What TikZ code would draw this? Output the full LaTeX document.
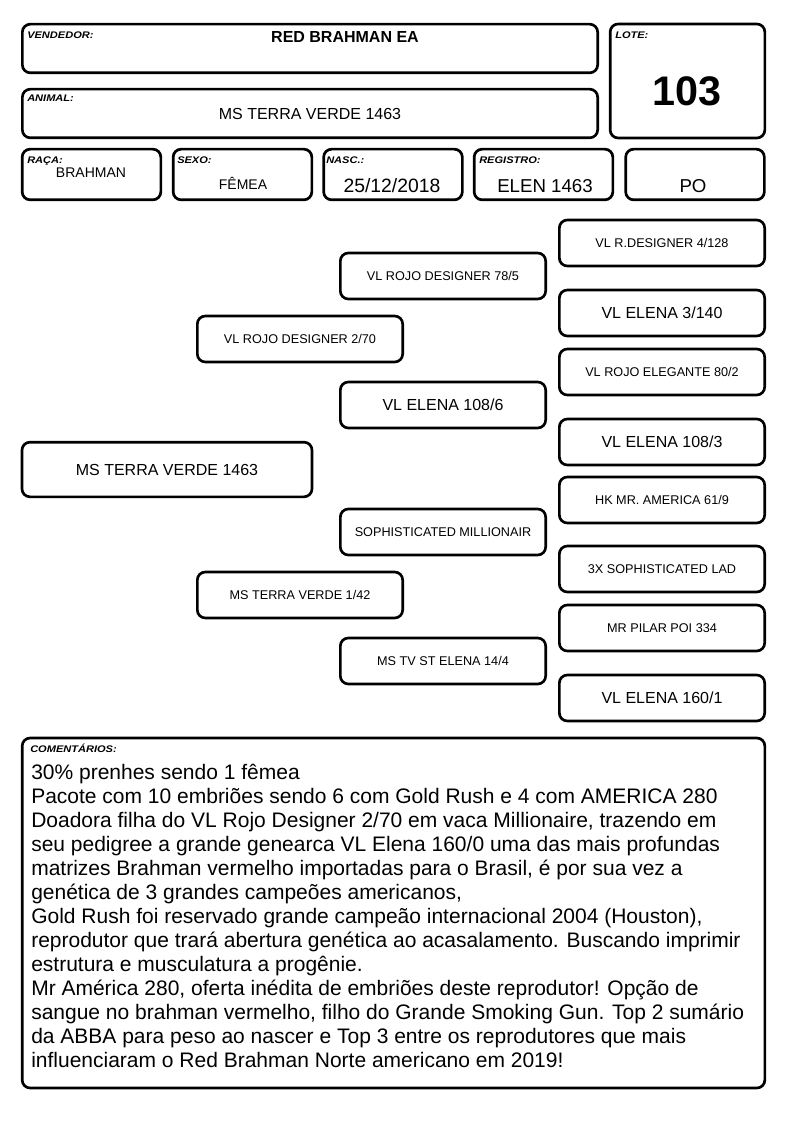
\documentclass[tikz,border=0pt]{standalone}
\usepackage{fontspec}
\setmainfont{Liberation Sans}
\newfontfamily\tagfont[FakeStretch=1.15]{Liberation Sans}
\usetikzlibrary{positioning}
\tikzset{
  card/.style ={draw=black, line width=2pt, rounded corners=6pt, fill=white, inner sep=0pt},
  head/.style ={card, minimum width=431.5pt, minimum height=36.5pt},
  cell/.style ={card, minimum width=104pt, minimum height=38pt},
  ped/.style  ={card, minimum width=154pt, minimum height=34.5pt, font=\fontsize{9.5}{11}\selectfont},
  pedl/.style ={ped, font=\fontsize{12}{14}\selectfont},
  tag/.style  ={anchor=base west, inner sep=0pt, font=\tagfont\fontsize{7.2}{8}\selectfont\bfseries\itshape},
  val/.style  ={anchor=base, inner sep=0pt}
}

\begin{document}
\begin{tikzpicture}[x=0.75pt, y=-0.75pt]
  \useasboundingbox (0,0) rectangle (794,1123);

  % cabecalho
  \node[head] (vend)   at (310,48.5)  {};
  \node[head] (animal) at (310,113.5) {};
  \node[card, minimum width=116pt, minimum height=85.5pt] (lote) at (687.5,81) {};
  \node[cell] (raca)  at (91.5,174.5) {};
  \node[cell] (sexo)  at (242.5,174.5) {};
  \node[cell] (nasc)  at (393,174.5) {};
  \node[cell] (reg)   at (543.5,174.5) {};
  \node[cell] (po)    at (695,174.5) {};

  \node[tag] (vendtag)   at (27,39)    {VENDEDOR:};
  \node[tag] (animaltag) at (27,102)   {ANIMAL:};
  \node[tag] (lotetag)   at (615,38.5) {LOTE:};
  \node[tag] (racatag)   at (27,163.5) {RAÇA:};
  \node[tag] (sexotag)   at (177,163.5) {SEXO:};
  \node[tag] (nasctag)   at (326,163.5) {NASC.:};
  \node[tag] (regtag)    at (479,163.5) {REGISTRO:};

  \node[val, font=\fontsize{12}{14}\selectfont\bfseries] (vendval) at (345,43) {RED BRAHMAN EA};
  \node[val, font=\fontsize{12}{14}\selectfont] (animalval) at (310,120) {MS TERRA VERDE 1463};
  \node[val, font=\fontsize{31}{34}\selectfont\bfseries] (loteval) at (687,106) {103};
  \node[val, font=\fontsize{10.5}{12}\selectfont] (racaval) at (91,178) {BRAHMAN};
  \node[val, font=\fontsize{10.5}{12}\selectfont] (sexoval) at (243,190) {FÊMEA};
  \node[val, font=\fontsize{14.5}{16}\selectfont] (nascval) at (392,193) {25/12/2018};
  \node[val, font=\fontsize{14}{16}\selectfont] (regval) at (545,193) {ELEN 1463};
  \node[val, font=\fontsize{14}{16}\selectfont] (poval) at (693,193) {PO};

  % pedigree
  \node[pedl, minimum width=217.5pt, minimum height=41pt] (animalped) at (167,469.5) {MS TERRA VERDE 1463};

  \node[ped] (pai) at (300,339) {VL ROJO DESIGNER 2/70};
  \node[ped] (mae) at (300,595) {MS TERRA VERDE 1/42};

  \node[ped]  (avopp) at (443,276) {VL ROJO DESIGNER 78/5};
  \node[pedl] (avopm) at (443,405) {VL ELENA 108/6};
  \node[ped]  (avomp) at (443,532) {SOPHISTICATED MILLIONAIR};
  \node[ped]  (avomm) at (443,661) {MS TV ST ELENA 14/4};

  \node[ped]  (bis1) at (662,243) {VL R.DESIGNER 4/128};
  \node[pedl] (bis2) at (662,313) {VL ELENA 3/140};
  \node[ped]  (bis3) at (662,372) {VL ROJO ELEGANTE 80/2};
  \node[pedl] (bis4) at (662,442) {VL ELENA 108/3};
  \node[ped]  (bis5) at (662,500) {HK MR. AMERICA 61/9};
  \node[ped]  (bis6) at (662,569) {3X SOPHISTICATED LAD};
  \node[ped]  (bis7) at (662,628) {MR PILAR POI 334};
  \node[pedl] (bis8) at (662,698) {VL ELENA 160/1};

  % comentarios
  \node[card, minimum width=557pt, minimum height=262.5pt] (coment) at (393.5,913) {};
  \node[tag] (comenttag) at (30,752.5) {COMENTÁRIOS:};
  \node[anchor=north west, inner sep=0pt, align=left,
        font=\fontsize{15.75}{18}\selectfont] (comenttxt) at (31,764) {%
    30\% prenhes sendo 1 fêmea\\
    Pacote com 10 embriões sendo 6 com Gold Rush e 4 com AMERICA 280\\
    Doadora filha do VL Rojo Designer 2/70 em vaca Millionaire, trazendo em\\
    seu pedigree a grande genearca VL Elena 160/0 uma das mais profundas\\
    matrizes Brahman vermelho importadas para o Brasil, é por sua vez a\\
    genética de 3 grandes campeões americanos,\\
    Gold Rush foi reservado grande campeão internacional 2004 (Houston),\\
    reprodutor que trará abertura genética ao acasalamento. Buscando imprimir\\
    estrutura e musculatura a progênie.\\
    Mr América 280, oferta inédita de embriões deste reprodutor! Opção de\\
    sangue no brahman vermelho, filho do Grande Smoking Gun. Top 2 sumário\\
    da ABBA para peso ao nascer e Top 3 entre os reprodutores que mais\\
    influenciaram o Red Brahman Norte americano em 2019!};
\end{tikzpicture}
\end{document}
